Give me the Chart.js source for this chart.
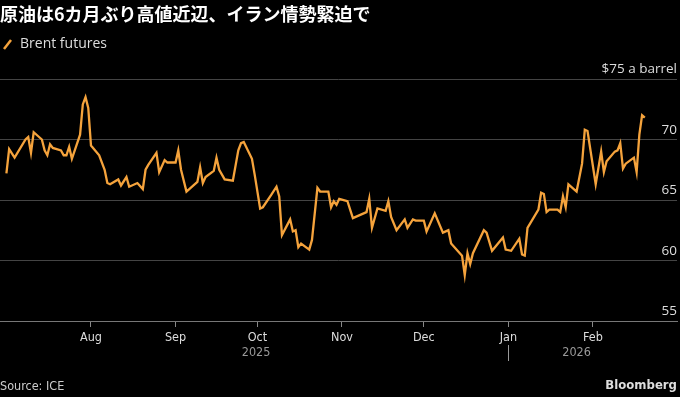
<!DOCTYPE html>
<html>
<head>
<meta charset="utf-8">
<script src="https://cdn.jsdelivr.net/npm/chart.js@4/dist/chart.umd.min.js"></script>
<style>
  html, body { margin: 0; padding: 0; background: #000; width: 680px; height: 397px; overflow: hidden; }
  #wrap { position: relative; width: 680px; height: 397px; }
  #chart { position: absolute; left: 0; top: 0; }
  .title { position: absolute; left: 0; top: 0; font: bold 18px "Noto Sans CJK JP", sans-serif; color: #fff; white-space: nowrap; line-height: 26px; }
  .legend { position: absolute; left: 3px; top: 34px; font: 14px "Open Sans", sans-serif; color: #ddd; line-height: 18px; white-space: nowrap; }
  .legend svg { vertical-align: -2px; margin-right: 7px; }
  .source { position: absolute; left: 0; top: 378px; font: 12.5px "DejaVu Sans Condensed", sans-serif; color: #ccc; }
  .brand { position: absolute; right: 3px; top: 377px; font: bold 13px "DejaVu Sans Condensed", sans-serif; color: #ddd; }
</style>
</head>
<body>
<div id="wrap">
  <canvas id="chart" width="680" height="397"></canvas>
  <div class="title">原油は6カ月ぶり高値近辺、イラン情勢緊迫で</div>
  <div class="legend"><svg width="10" height="12"><line x1="1" y1="11" x2="8" y2="2" stroke="#f5a33c" stroke-width="2.5"/></svg>Brent futures</div>
  <div class="source">Source: ICE</div>
  <div class="brand">Bloomberg</div>
</div>
<script>
// Brent futures, $ a barrel
const dates = [
  '2025-07-01', '2025-07-02', '2025-07-04', '2025-07-08', '2025-07-09', '2025-07-10', '2025-07-11',
  '2025-07-14', '2025-07-15', '2025-07-16', '2025-07-17', '2025-07-18', '2025-07-21', '2025-07-22',
  '2025-07-23', '2025-07-24', '2025-07-25', '2025-07-28', '2025-07-29', '2025-07-30', '2025-07-31',
  '2025-08-01', '2025-08-04', '2025-08-06', '2025-08-07', '2025-08-08', '2025-08-11', '2025-08-12',
  '2025-08-14', '2025-08-15', '2025-08-18', '2025-08-20', '2025-08-21', '2025-08-22', '2025-08-25',
  '2025-08-26', '2025-08-28', '2025-08-29', '2025-09-01', '2025-09-02', '2025-09-03', '2025-09-05',
  '2025-09-09', '2025-09-10', '2025-09-11', '2025-09-12', '2025-09-15', '2025-09-16', '2025-09-17',
  '2025-09-19', '2025-09-22', '2025-09-24', '2025-09-25', '2025-09-26', '2025-09-29', '2025-09-30',
  '2025-10-02', '2025-10-03', '2025-10-06', '2025-10-08', '2025-10-09', '2025-10-10', '2025-10-13',
  '2025-10-14', '2025-10-15', '2025-10-16', '2025-10-17', '2025-10-20', '2025-10-21', '2025-10-23',
  '2025-10-24', '2025-10-27', '2025-10-28', '2025-10-29', '2025-10-30', '2025-10-31', '2025-11-03',
  '2025-11-05', '2025-11-10', '2025-11-11', '2025-11-12', '2025-11-14', '2025-11-17', '2025-11-18',
  '2025-11-19', '2025-11-21', '2025-11-24', '2025-11-25', '2025-11-27', '2025-11-28', '2025-12-01',
  '2025-12-02', '2025-12-05', '2025-12-08', '2025-12-10', '2025-12-11', '2025-12-15', '2025-12-16',
  '2025-12-17', '2025-12-18', '2025-12-19', '2025-12-23', '2025-12-24', '2025-12-26', '2025-12-30',
  '2025-12-31', '2026-01-02', '2026-01-05', '2026-01-06', '2026-01-07', '2026-01-08', '2026-01-12',
  '2026-01-13', '2026-01-14', '2026-01-15', '2026-01-16', '2026-01-19', '2026-01-20', '2026-01-21',
  '2026-01-22', '2026-01-23', '2026-01-26', '2026-01-28', '2026-01-29', '2026-01-30', '2026-02-02',
  '2026-02-04', '2026-02-05', '2026-02-06', '2026-02-09', '2026-02-10', '2026-02-11', '2026-02-12',
  '2026-02-13', '2026-02-16', '2026-02-17', '2026-02-18', '2026-02-19', '2026-02-20'
];
const brent = [
  67.2, 69.2, 68.5, 70.0, 70.2, 68.9, 70.6,
  70.0, 69.1, 68.7, 69.6, 69.3, 69.1, 68.7,
  68.7, 69.4, 68.4, 70.4, 72.9, 73.5, 72.6,
  69.5, 68.7, 67.5, 66.4, 66.3, 66.7, 66.2,
  66.9, 66.1, 66.4, 65.9, 67.5, 67.9, 68.9,
  67.3, 68.3, 68.1, 68.1, 69.1, 67.5, 65.7,
  66.5, 67.7, 66.4, 66.9, 67.4, 68.5, 67.5,
  66.7, 66.6, 69.1, 69.7, 69.8, 68.4, 67.1,
  64.3, 64.4, 65.4, 66.1, 65.3, 62.1, 63.4,
  62.4, 62.5, 61.1, 61.4, 60.9, 61.7, 66.0,
  65.7, 65.7, 64.4, 64.9, 64.6, 65.1, 64.9,
  63.5, 64.0, 65.1, 62.7, 64.3, 64.1, 64.9,
  63.6, 62.5, 63.4, 62.7, 63.4, 63.3, 63.3,
  62.4, 63.9, 62.3, 62.5, 61.4, 60.4, 58.8,
  60.6, 59.7, 60.6, 62.5, 62.3, 60.8, 61.9,
  60.9, 60.8, 61.8, 60.5, 60.4, 62.7, 64.2,
  65.6, 65.5, 64.0, 64.2, 64.2, 64.0, 65.3,
  64.4, 66.3, 65.7, 68.0, 70.8, 70.7, 66.3,
  69.0, 67.3, 68.2, 69.0, 69.1, 69.7, 67.6,
  68.0, 68.5, 67.3, 70.4, 72.0, 71.8
];

const monthTicks = ['2025-08-01', '2025-09-01', '2025-10-01', '2025-11-01', '2025-12-01', '2026-01-01', '2026-02-01'];
const monthLabels = ['Aug', 'Sep', 'Oct', 'Nov', 'Dec', 'Jan', 'Feb'];
const yearLabels = ['2025', '2026'];
const yearStarts = ['2025-07-01', '2026-01-01'];
const yearEnds = ['2025-12-31', '2026-02-20'];
const priceTicks = [55, 60, 65, 70, 75];

const origin = Date.UTC(2025, 6, 1);
function dayNum(s) {
  const [y, m, d] = s.split('-').map(Number);
  return (Date.UTC(y, m - 1, d) - origin) / 864e5;
}

const orange = '#f5a33c';

// y labels sit above their gridlines at the right edge, Bloomberg style
const yLabels = {
  id: 'yLabels',
  afterDraw(chart) {
    const { ctx, chartArea, scales: { y } } = chart;
    ctx.save();
    ctx.font = '13.5px "Open Sans", sans-serif';
    ctx.fillStyle = '#ddd';
    ctx.textAlign = 'right';
    ctx.textBaseline = 'bottom';
    priceTicks.forEach(v => {
      const label = v === 75 ? '$75 a barrel' : String(v);
      ctx.fillText(label, chartArea.right, y.getPixelForValue(v) - 3);
    });
    ctx.restore();
  }
};

// year row under the months
const yearRow = {
  id: 'yearRow',
  afterDraw(chart) {
    const { ctx, scales: { x } } = chart;
    const rowY = 353;
    ctx.save();
    ctx.font = '12.5px "DejaVu Sans Condensed", sans-serif';
    ctx.fillStyle = '#999';
    ctx.textAlign = 'center';
    ctx.textBaseline = 'middle';
    yearLabels.forEach((lbl, i) => {
      const a = x.getPixelForValue(dayNum(yearStarts[i]));
      const b = x.getPixelForValue(dayNum(yearEnds[i]));
      ctx.fillText(lbl, (a + b) / 2, rowY);
    });
    const sep = x.getPixelForValue(dayNum(yearStarts[1]));
    ctx.strokeStyle = '#999';
    ctx.lineWidth = 1;
    ctx.beginPath();
    ctx.moveTo(Math.round(sep) + 0.5, rowY - 8);
    ctx.lineTo(Math.round(sep) + 0.5, rowY + 8);
    ctx.stroke();
    ctx.restore();
  }
};

new Chart(document.getElementById('chart'), {
  type: 'line',
  data: {
    datasets: [{
      label: 'Brent futures',
      data: dates.map((d, i) => ({ x: dayNum(d), y: brent[i] })),
      borderColor: orange,
      borderWidth: 2.3,
      pointRadius: 0,
      tension: 0,
      clip: false
    }]
  },
  options: {
    responsive: false,
    animation: false,
    events: [],
    layout: { padding: { top: 79, right: 3, left: 0, bottom: 0 } },
    plugins: { legend: { display: false }, tooltip: { enabled: false } },
    scales: {
      x: {
        type: 'linear',
        min: -2.35,
        max: 245.8,
        afterFit(s) { s.height = 76; },
        afterBuildTicks(s) { s.ticks = monthTicks.map(d => ({ value: dayNum(d) })); },
        ticks: {
          autoSkip: false,
          maxRotation: 0,
          padding: 3,
          color: '#ddd',
          font: { family: '"DejaVu Sans Condensed", sans-serif', size: 12.5 },
          callback: (v, i) => monthLabels[i]
        },
        grid: { drawOnChartArea: false, drawTicks: true, tickLength: 6, color: '#888' },
        border: { display: true, color: '#777', width: 1 }
      },
      y: {
        position: 'right',
        min: 55,
        max: 75,
        afterFit(s) { s.width = 0; },
        afterBuildTicks(s) { s.ticks = priceTicks.map(v => ({ value: v })); },
        ticks: { display: false },
        grid: { color: '#444', lineWidth: 1, drawTicks: false },
        border: { display: false }
      }
    }
  },
  plugins: [yLabels, yearRow]
});
</script>
</body>
</html>
